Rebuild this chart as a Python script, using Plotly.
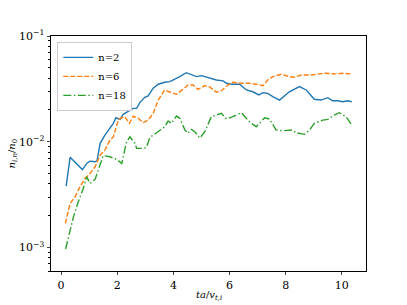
import plotly.graph_objects as go

# n=2
x_n2 = [0.18, 0.32, 0.76, 0.92, 1.03, 1.21, 1.28, 1.39, 1.56, 1.74, 1.86, 1.95, 2.10, 2.21, 2.39, 2.57, 2.69, 2.81,
        2.98, 3.10, 3.28, 3.46, 3.69, 3.87, 4.05, 4.23, 4.46, 4.64, 4.82, 5.00, 5.18, 5.35, 5.53, 5.77, 5.89, 6.06,
        6.36, 6.60, 6.83, 7.04, 7.19, 7.36, 7.54, 7.78, 8.13, 8.49, 8.73, 9.02, 9.26, 9.50, 9.67, 9.85, 10.03, 10.21, 10.35]
y_n2 = [0.00381, 0.00712, 0.00546, 0.00628, 0.00656, 0.00647, 0.0066, 0.00966, 0.01156, 0.01339, 0.01494, 0.01687,
        0.0163, 0.01816, 0.01923, 0.0207, 0.0207, 0.0236, 0.0263, 0.0271, 0.0321, 0.0350, 0.0365, 0.0370, 0.0392,
        0.0413, 0.0450, 0.0428, 0.0413, 0.0422, 0.0407, 0.0398, 0.0384, 0.0376, 0.0357, 0.0350, 0.0350, 0.0309,
        0.0297, 0.0277, 0.0291, 0.0287, 0.0267, 0.0248, 0.0297, 0.0332, 0.0309, 0.0252, 0.0248, 0.0261, 0.0244,
        0.0244, 0.0239, 0.0244, 0.0239]

# n=6
x_n6 = [0.15, 0.32, 0.50, 0.67, 0.85, 1.03, 1.21, 1.39, 1.56, 1.74, 1.86, 2.00, 2.10, 2.27, 2.43, 2.57, 2.75, 2.92,
        3.10, 3.28, 3.46, 3.69, 3.93, 4.11, 4.34, 4.52, 4.70, 4.88, 5.12, 5.29, 5.53, 5.71, 5.94, 6.12, 6.42, 6.71,
        6.95, 7.19, 7.36, 7.54, 7.84, 8.13, 8.31, 8.55, 8.91, 9.14, 9.38, 9.79, 10.03, 10.33]
y_n6 = [0.00169, 0.00261, 0.00302, 0.00375, 0.00450, 0.00502, 0.00580, 0.00748, 0.00834, 0.01037, 0.01115, 0.01493,
        0.01666, 0.01725, 0.01493, 0.0175, 0.01666, 0.01514, 0.01604, 0.01857, 0.0248, 0.0309, 0.0291, 0.0281,
        0.0313, 0.0344, 0.0344, 0.0313, 0.0340, 0.0330, 0.0294, 0.0304, 0.0344, 0.0365, 0.0357, 0.0357, 0.0350,
        0.0339, 0.0384, 0.0413, 0.0435, 0.0413, 0.0407, 0.0428, 0.0428, 0.0438, 0.0444, 0.0438, 0.0444, 0.0438]

# n=18
x_n18 = [0.16, 0.32, 0.44, 0.61, 0.79, 0.91, 1.03, 1.21, 1.32, 1.50, 1.74, 1.98, 2.16, 2.33, 2.45, 2.63, 2.69, 2.92,
         3.04, 3.16, 3.34, 3.52, 3.69, 3.81, 3.93, 4.11, 4.23, 4.41, 4.52, 4.64, 4.76, 4.94, 5.12, 5.35, 5.59, 5.71,
         5.89, 6.12, 6.42, 6.71, 6.95, 7.13, 7.25, 7.42, 7.66, 7.90, 8.25, 8.37, 8.67, 8.85, 9.02, 9.32, 9.50, 9.73,
         9.91, 10.15, 10.33]
y_n18 = [0.000968, 0.00146, 0.00195, 0.00270, 0.00362, 0.00467, 0.00404, 0.00441, 0.00540, 0.00740, 0.00721,
         0.00681, 0.00624, 0.0100, 0.01115, 0.00966, 0.00866, 0.00866, 0.00885, 0.0110, 0.01184, 0.01271, 0.01386,
         0.01570, 0.01493, 0.0175, 0.01666, 0.01292, 0.01202, 0.01310, 0.01244, 0.01084, 0.01244, 0.01725, 0.01816,
         0.01857, 0.01641, 0.01725, 0.01883, 0.01546, 0.01386, 0.01546, 0.01687, 0.01641, 0.01292, 0.01271, 0.01292,
         0.01216, 0.01175, 0.01292, 0.01493, 0.01604, 0.0163, 0.0179, 0.01883, 0.01725, 0.01473]

x_ticks = [0, 2, 4, 6, 8, 10]
y_ticks = [1e-3, 1e-2, 1e-1]
y_tick_text = ["10<sup>−3</sup>", "10<sup>−2</sup>", "10<sup>−1</sup>"]
y_minor = [m * d for d in (1e-4, 1e-3, 1e-2) for m in range(2, 10) if 6e-4 <= m * d <= 1e-1]

FONT = "DejaVu Serif"

fig = go.Figure()
fig.add_trace(go.Scatter(x=x_n2, y=y_n2, mode="lines", name="n=2",
                         line=dict(color="#1f77b4", width=1.4)))
fig.add_trace(go.Scatter(x=x_n6, y=y_n6, mode="lines", name="n=6",
                         line=dict(color="#ff7f0e", width=1.4, dash="5px,2px")))
fig.add_trace(go.Scatter(x=x_n18, y=y_n18, mode="lines", name="n=18",
                         line=dict(color="#2ca02c", width=1.4, dash="8px,2.5px,1.5px,2.5px")))

fig.update_layout(
    width=407, height=305,
    margin=dict(l=51, r=41, t=36, b=34),
    paper_bgcolor="white", plot_bgcolor="white",
    font=dict(family=FONT, size=10, color="black"),
    showlegend=True,
    legend=dict(x=0.02, y=0.975, xanchor="left", yanchor="top",
                bgcolor="rgba(255,255,255,0.8)", bordercolor="#cccccc", borderwidth=1,
                font=dict(family=FONT, size=10), tracegroupgap=0, itemwidth=30),
    xaxis=dict(range=[-0.36, 10.86], tickvals=x_ticks, ticks="outside", ticklen=3.5, tickwidth=0.8,
               showline=True, linecolor="black", linewidth=0.8, mirror=True, showgrid=False, zeroline=False,
               tickfont=dict(family=FONT, size=11), automargin=False),
    yaxis=dict(type="log", range=[-3.2218, -1], tickvals=y_ticks, ticktext=y_tick_text, ticks="outside",
               ticklen=3.5, tickwidth=0.8,
               minor=dict(tickvals=y_minor, ticks="outside", ticklen=2, tickwidth=0.6, tickcolor="black", showgrid=False),
               showline=True, linecolor="black", linewidth=0.8, mirror=True, showgrid=False, zeroline=False,
               tickfont=dict(family=FONT, size=11), automargin=False),
    annotations=[
        dict(text="<i>ta</i>/<i>v</i><sub><i>t,i</i></sub>", xref="paper", yref="paper",
             x=0.5, y=0, yshift=-24, xanchor="center", yanchor="middle", showarrow=False,
             font=dict(family=FONT, size=10)),
        dict(text="<i>n</i><sub><i>i,n</i></sub>/<i>n</i><sub>0</sub>", xref="paper", yref="paper",
             x=0, y=0.5, xshift=-39, xanchor="center", yanchor="middle", textangle=-90, showarrow=False,
             font=dict(family=FONT, size=10)),
    ],
)

fig.write_html("out.html", config={"displayModeBar": False},
               post_script="document.body.style.margin='0px';")
